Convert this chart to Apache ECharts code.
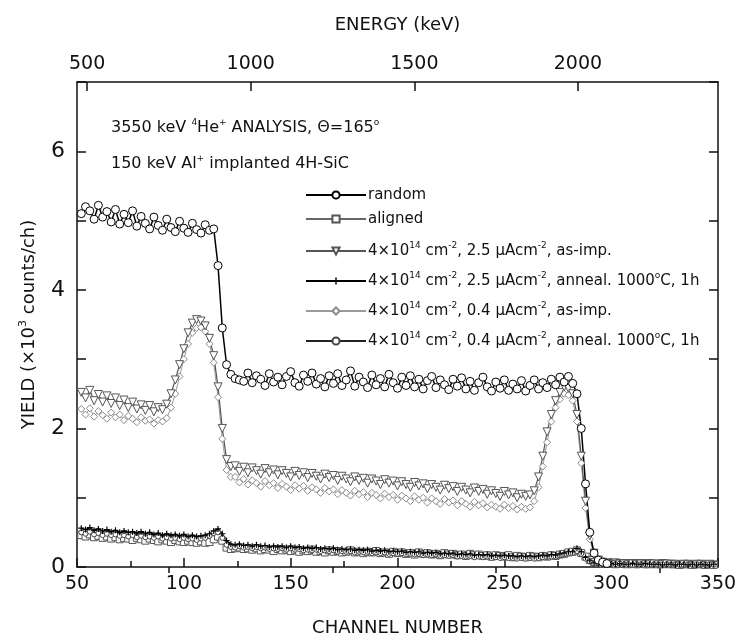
<!DOCTYPE html>
<html>
<head>
<meta charset="utf-8">
<script src="https://cdn.jsdelivr.net/npm/echarts@6/dist/echarts.min.js"></script>
<style>
html,body{margin:0;padding:0;background:#fff;}
#chart{width:740px;height:644px;}
</style>
</head>
<body>
<div id="chart"></div>
<script>
// RBS yield spectra, one value every CH_STEP channels starting at CH_START
const CH_START = 52;
const CH_STEP = 2;

const random = [
5.10,5.20,5.14,5.02,5.22,5.05,5.13,4.98,5.16,4.95,
5.09,4.97,5.14,4.92,5.06,4.96,4.88,5.05,4.93,4.86,
5.02,4.90,4.84,4.99,4.89,4.83,4.96,4.87,4.82,4.94,
4.86,4.88,
4.35,3.45,2.92,2.78,2.72,2.70,
2.68,2.80,2.66,2.76,2.71,2.62,2.79,2.67,2.74,2.63,
2.75,2.82,2.66,2.61,2.77,2.68,2.80,2.64,2.72,2.60,
2.76,2.65,2.79,2.62,2.70,2.83,2.61,2.74,2.67,2.59,
2.77,2.63,2.72,2.60,2.78,2.66,2.58,2.74,2.62,2.76,
2.60,2.71,2.57,2.69,2.75,2.59,2.70,2.63,2.56,2.71,
2.61,2.73,2.57,2.68,2.55,2.66,2.74,2.60,2.54,2.67,
2.58,2.70,2.55,2.64,2.57,2.69,2.54,2.62,2.70,2.57,
2.66,2.59,2.71,2.63,2.74,2.67,2.75,
2.65,2.50,2.00,1.20,0.50,0.20,0.10,0.07,0.05
];

const aligned = [
0.46,0.44,0.47,0.43,0.45,0.42,0.44,0.41,0.43,0.40,
0.42,0.41,0.39,0.42,0.40,0.38,0.41,0.39,0.37,0.40,
0.38,0.36,0.39,0.37,0.36,0.38,0.36,0.35,0.37,0.35,
0.36,0.40,
0.44,0.38,0.28,0.26,0.27,
0.28,0.26,0.27,0.25,0.27,0.24,0.26,0.25,0.23,0.26,
0.24,0.25,0.23,0.25,0.22,0.24,0.23,0.25,0.22,0.23,
0.21,0.24,0.22,0.23,0.21,0.22,0.24,0.21,0.22,0.20,
0.22,0.21,0.23,0.20,0.21,0.19,0.22,0.20,0.21,0.19,
0.20,0.18,0.21,0.19,0.20,0.18,0.19,0.17,0.20,0.18,
0.19,0.17,0.18,0.16,0.19,0.17,0.18,0.16,0.17,0.15,
0.17,0.16,0.15,0.17,0.14,0.16,0.15,0.14,0.16,0.15,
0.14,0.16,0.15,0.17,0.16,0.18,0.19,0.21,
0.22,0.24,0.20,0.15,0.10,0.07,
0.06,0.05,0.06,0.05,0.04,0.05,0.05,0.04,0.05,0.04,
0.05,0.04,0.04,0.05,0.04,0.04,0.05,0.04,0.04,0.03,
0.04,0.04,0.03,0.04,0.04,0.03,0.04,0.03
];

const asImp25 = [
2.52,2.44,2.55,2.40,2.49,2.38,2.47,2.36,2.44,2.33,
2.41,2.30,2.38,2.28,2.34,2.26,2.33,2.24,2.30,2.27,
2.35,2.50,2.70,2.92,3.15,3.38,3.52,3.57,3.55,3.48,
3.30,3.05,2.60,2.00,1.55,1.45,
1.46,1.38,1.44,1.36,1.43,1.39,1.34,1.42,1.36,1.40,
1.33,1.39,1.35,1.30,1.38,1.32,1.36,1.29,1.35,1.31,
1.27,1.34,1.29,1.32,1.25,1.31,1.27,1.23,1.30,1.25,
1.28,1.21,1.27,1.24,1.19,1.26,1.21,1.24,1.17,1.23,
1.19,1.15,1.22,1.17,1.20,1.13,1.19,1.15,1.11,1.18,
1.13,1.16,1.09,1.15,1.11,1.07,1.14,1.09,1.12,1.05,
1.10,1.06,1.02,1.09,1.04,1.07,1.00,1.05,1.02,1.04,
1.10,1.30,1.60,1.95,2.20,2.40,2.52,2.60,2.58,2.50,
2.20,1.60,0.95,0.45,0.20,0.10,
0.07,0.06,0.05,0.06,0.05,0.04,0.05,0.05,0.04,0.05,
0.04,0.05,0.04,0.04,0.05,0.04,0.04,0.04,0.03,0.04,
0.04,0.03,0.04,0.04,0.03,0.04,0.03
];

const anneal25 = [
0.56,0.54,0.57,0.53,0.55,0.52,0.54,0.51,0.53,0.50,
0.52,0.50,0.51,0.49,0.51,0.48,0.50,0.47,0.49,0.46,
0.48,0.46,0.47,0.45,0.47,0.44,0.46,0.44,0.45,0.46,
0.48,0.52,
0.55,0.48,0.38,0.33,0.32,
0.33,0.31,0.32,0.30,0.32,0.30,0.31,0.29,0.30,0.29,
0.30,0.28,0.30,0.28,0.29,0.27,0.28,0.27,0.28,0.26,
0.27,0.26,0.27,0.25,0.26,0.25,0.26,0.24,0.25,0.24,
0.25,0.23,0.24,0.23,0.24,0.22,0.23,0.22,0.23,0.21,
0.22,0.21,0.22,0.20,0.21,0.20,0.21,0.19,0.20,0.19,
0.20,0.18,0.19,0.18,0.19,0.17,0.18,0.17,0.18,0.16,
0.17,0.16,0.17,0.16,0.16,0.15,0.16,0.15,0.16,0.15,
0.16,0.17,0.16,0.18,0.17,0.19,0.20,0.22,
0.22,0.27,0.22,0.14,0.09,0.06,
0.05,0.05,0.04,0.05,0.04,0.05,0.04,0.04,0.05,0.04,
0.04,0.05,0.04,0.04,0.04,0.03,0.04,0.04,0.03,0.04,
0.04,0.03,0.04,0.03,0.04,0.03,0.03,0.04
];

const asImp04 = [
2.28,2.20,2.29,2.17,2.25,2.19,2.14,2.23,2.16,2.20,
2.12,2.18,2.14,2.09,2.16,2.11,2.13,2.07,2.12,2.10,
2.15,2.30,2.50,2.75,3.00,3.22,3.38,3.45,3.46,3.40,
3.22,2.95,2.45,1.85,1.40,1.30,
1.30,1.22,1.27,1.19,1.25,1.21,1.16,1.24,1.18,1.21,
1.14,1.20,1.16,1.11,1.18,1.13,1.17,1.10,1.15,1.12,
1.07,1.14,1.09,1.12,1.05,1.11,1.07,1.03,1.10,1.05,
1.08,1.01,1.07,1.04,0.99,1.06,1.01,1.04,0.97,1.03,
0.99,0.95,1.02,0.97,1.00,0.93,0.99,0.95,0.91,0.98,
0.93,0.96,0.89,0.95,0.91,0.87,0.94,0.89,0.92,0.86,
0.90,0.87,0.84,0.90,0.85,0.88,0.83,0.87,0.84,0.86,
0.95,1.15,1.45,1.80,2.10,2.30,2.42,2.50,2.48,2.40,
2.10,1.50,0.85,0.40,0.18,0.10,
0.06,0.05,0.06,0.05,0.05,0.04,0.05,0.04,0.04,0.05,
0.04,0.04,0.05,0.04,0.03,0.04,0.04,0.03,0.04,0.04,
0.03,0.04,0.03,0.04,0.03,0.03,0.04
];

const anneal04 = [
0.50,0.48,0.51,0.47,0.49,0.46,0.48,0.46,0.47,0.45,
0.46,0.44,0.46,0.43,0.45,0.43,0.44,0.42,0.44,0.41,
0.43,0.41,0.42,0.40,0.42,0.40,0.41,0.39,0.41,0.42,
0.45,0.49,
0.50,0.42,0.32,0.29,0.28,
0.30,0.28,0.29,0.27,0.29,0.27,0.28,0.26,0.27,0.26,
0.27,0.25,0.27,0.25,0.26,0.24,0.25,0.24,0.25,0.23,
0.24,0.23,0.24,0.22,0.23,0.22,0.23,0.21,0.22,0.21,
0.22,0.20,0.21,0.20,0.21,0.19,0.20,0.19,0.20,0.18,
0.19,0.18,0.19,0.17,0.18,0.17,0.18,0.16,0.17,0.16,
0.17,0.15,0.16,0.15,0.16,0.14,0.15,0.14,0.15,0.13,
0.14,0.13,0.14,0.13,0.13,0.12,0.13,0.12,0.13,0.12,
0.13,0.14,0.14,0.15,0.15,0.17,0.18,0.20,
0.20,0.23,0.19,0.12,0.08,0.05,
0.05,0.04,0.05,0.04,0.04,0.05,0.04,0.04,0.03,0.04,
0.04,0.04,0.03,0.04,0.03,0.04,0.04,0.03,0.04,0.03,
0.03,0.04,0.03,0.04,0.03,0.03,0.04,0.03
];

// Axis ranges and tick values
const channelRange = [50, 350];
const yieldRange = [0, 7];
const energyRange = [469, 2428];          // keV at the channel-axis ends
const energyLabels = [500, 1000, 1500, 2000];
const energyMinorTicks = [750, 1250, 1750, 2250];

// Legend entries: series name -> rich-text label
const legendText = {
  random: 'random',
  aligned: 'aligned',
  imp25: '4×10{sup|14} cm{sup|-2}, 2.5 μAcm{sup|-2}, as-imp.',
  ann25: '4×10{sup|14} cm{sup|-2}, 2.5 μAcm{sup|-2}, anneal. 1000{sup|o}C, 1h',
  imp04: '4×10{sup|14} cm{sup|-2}, 0.4 μAcm{sup|-2}, as-imp.',
  ann04: '4×10{sup|14} cm{sup|-2}, 0.4 μAcm{sup|-2}, anneal. 1000{sup|o}C, 1h'
};

const FONT = 'DejaVu Sans';
const INK = '#111';

function toPairs(values) {
  return values.map((v, i) => [CH_START + CH_STEP * i, v]);
}

const plusPath = 'path://M4,0h2v10h-2z M0,4h10v2h-10z';

function lineSeries(name, values, opts) {
  return Object.assign({
    type: 'line',
    name: name,
    data: toPairs(values),
    xAxisIndex: 0,
    yAxisIndex: 0,
    showAllSymbol: true,
    animation: false,
    emphasis: { disabled: true }
  }, opts);
}

function supStyle(size) {
  return { sup: { fontSize: size, verticalAlign: 'top', lineHeight: size, fontFamily: FONT, color: INK } };
}

const legendTextStyle = {
  fontFamily: FONT, fontSize: 15, color: INK, lineHeight: 20,
  padding: [0, 0, 0, -3], rich: supStyle(9)
};

const chart = echarts.init(document.getElementById('chart'), null, { renderer: 'canvas' });

const option = {
  backgroundColor: '#fff',
  animation: false,
  textStyle: { fontFamily: FONT, color: INK },
  grid: { left: 77, right: 22, top: 82, bottom: 77, containLabel: false },
  legend: [
    {
      data: ['random', 'aligned'],
      orient: 'vertical',
      left: 300, top: 180,
      itemWidth: 60, itemHeight: 9, itemGap: 4,
      selectedMode: false,
      formatter: n => legendText[n],
      textStyle: legendTextStyle
    },
    {
      data: ['imp25', 'ann25', 'imp04', 'ann04'],
      orient: 'vertical',
      left: 300, top: 236,
      itemWidth: 60, itemHeight: 9, itemGap: 10,
      selectedMode: false,
      formatter: n => legendText[n],
      textStyle: legendTextStyle
    }
  ],
  xAxis: [
    {
      type: 'value', position: 'bottom',
      min: channelRange[0], max: channelRange[1], interval: 50,
      name: 'CHANNEL NUMBER', nameLocation: 'middle', nameGap: 52,
      nameTextStyle: { fontFamily: FONT, fontSize: 18, color: INK },
      axisLine: { onZero: false, lineStyle: { color: INK, width: 1.5 } },
      axisTick: { inside: true, length: 9, lineStyle: { color: INK, width: 1.5 } },
      minorTick: { show: true, splitNumber: 2, length: 6, lineStyle: { color: INK, width: 1.5 } },
      axisLabel: { fontFamily: FONT, fontSize: 19, color: INK, margin: 8 },
      splitLine: { show: false }
    },
    {
      type: 'value', position: 'top',
      min: energyRange[0], max: energyRange[1],
      name: 'ENERGY (keV)', nameLocation: 'middle', nameGap: 48,
      nameTextStyle: { fontFamily: FONT, fontSize: 18, color: INK },
      axisLine: { onZero: false, lineStyle: { color: INK, width: 1.5 } },
      axisTick: { inside: true, length: 9, customValues: energyLabels, lineStyle: { color: INK, width: 1.5 } },
      axisLabel: { fontFamily: FONT, fontSize: 19, color: INK, margin: 8, customValues: energyLabels,
        formatter: v => String(v) },
      splitLine: { show: false }
    },
    {
      type: 'value', position: 'top',
      min: energyRange[0], max: energyRange[1],
      axisLine: { show: false },
      axisTick: { inside: true, length: 6, customValues: energyMinorTicks, lineStyle: { color: INK, width: 1.5 } },
      axisLabel: { show: false },
      splitLine: { show: false }
    }
  ],
  yAxis: [
    {
      type: 'value', position: 'left',
      min: yieldRange[0], max: yieldRange[1], interval: 2,
      name: 'YIELD (×10{sup|3} counts/ch)', nameLocation: 'middle', nameGap: 37, nameRotate: 90,
      nameTextStyle: { fontFamily: FONT, fontSize: 18, color: INK, lineHeight: 22, rich: supStyle(11) },
      axisLine: { onZero: false, lineStyle: { color: INK, width: 1.5 } },
      axisTick: { inside: true, length: 9, lineStyle: { color: INK, width: 1.5 } },
      minorTick: { show: true, splitNumber: 2, length: 9, lineStyle: { color: INK, width: 1.5 } },
      axisLabel: { fontFamily: FONT, fontSize: 22, color: INK, margin: 12, showMaxLabel: false },
      splitLine: { show: false }
    },
    {
      type: 'value', position: 'right',
      min: yieldRange[0], max: yieldRange[1], interval: 2,
      axisLine: { onZero: false, lineStyle: { color: INK, width: 1.5 } },
      axisTick: { inside: true, length: 9, lineStyle: { color: INK, width: 1.5 } },
      minorTick: { show: true, splitNumber: 2, length: 9, lineStyle: { color: INK, width: 1.5 } },
      axisLabel: { show: false },
      splitLine: { show: false }
    }
  ],
  graphic: [
    {
      type: 'text', left: 111, top: 118,
      style: {
        text: '3550 keV {sup|4}He{sup|+} ANALYSIS, Θ=165{sup|o}',
        font: '16px "DejaVu Sans"', fill: INK, lineHeight: 20,
        rich: { sup: { fontSize: 9, verticalAlign: 'top', lineHeight: 9, fontFamily: FONT, fill: INK } }
      }
    },
    {
      type: 'text', left: 111, top: 154,
      style: {
        text: '150 keV Al{sup|+} implanted 4H-SiC',
        font: '16px "DejaVu Sans"', fill: INK, lineHeight: 20,
        rich: { sup: { fontSize: 9, verticalAlign: 'top', lineHeight: 9, fontFamily: FONT, fill: INK } }
      }
    }
  ],
  series: [
    lineSeries('imp04', asImp04, {
      symbol: 'diamond', symbolSize: 7,
      lineStyle: { color: '#9a9a9a', width: 1 },
      itemStyle: { color: '#fff', borderColor: '#8a8a8a', borderWidth: 1 }
    }),
    lineSeries('imp25', asImp25, {
      symbol: 'triangle', symbolRotate: 180, symbolSize: 8,
      lineStyle: { color: '#555', width: 1.2 },
      itemStyle: { color: '#fff', borderColor: '#555', borderWidth: 1 }
    }),
    lineSeries('aligned', aligned, {
      symbol: 'rect', symbolSize: 7,
      lineStyle: { color: '#666', width: 1 },
      itemStyle: { color: '#fff', borderColor: '#555', borderWidth: 1 }
    }),
    lineSeries('ann04', anneal04, {
      symbol: 'circle', symbolSize: 5,
      lineStyle: { color: '#222', width: 1.2 },
      itemStyle: { color: '#fff', borderColor: '#444', borderWidth: 1 }
    }),
    lineSeries('ann25', anneal25, {
      symbol: plusPath, symbolSize: 6,
      lineStyle: { color: '#000', width: 1.4 },
      itemStyle: { color: '#000' }
    }),
    lineSeries('random', random, {
      symbol: 'circle', symbolSize: 8,
      lineStyle: { color: '#000', width: 1.5 },
      itemStyle: { color: '#fff', borderColor: '#000', borderWidth: 1 }
    })
  ]
};

chart.setOption(option);
</script>
</body>
</html>
